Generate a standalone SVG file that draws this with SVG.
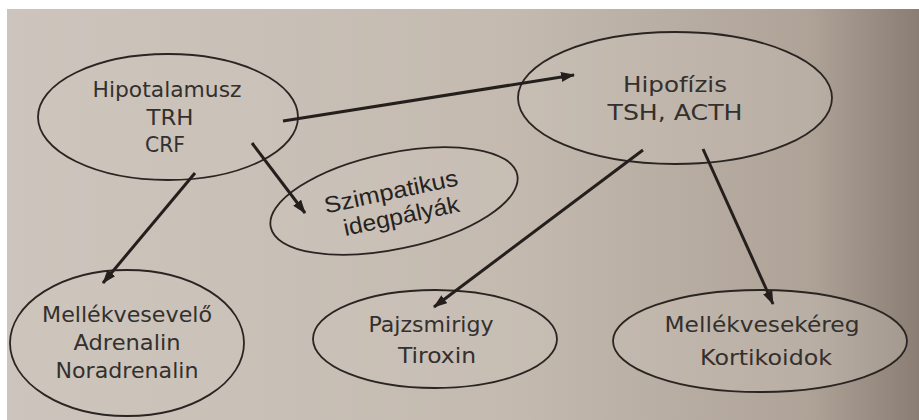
<svg xmlns="http://www.w3.org/2000/svg" width="919" height="420" viewBox="0 0 919 420">
<defs>
<linearGradient id="bg" x1="0" y1="0" x2="1" y2="0">
<stop offset="0" stop-color="#cdc5bd"/>
<stop offset="0.55" stop-color="#c4bab0"/>
<stop offset="0.88" stop-color="#afa398"/>
<stop offset="1" stop-color="#8a7e74"/>
</linearGradient>
<marker id="ah" viewBox="0 0 14 10" refX="13" refY="5" markerWidth="14" markerHeight="10" markerUnits="userSpaceOnUse" orient="auto">
<path d="M0,0 L14,5 L0,10 Z" fill="#241f1c"/>
</marker>
</defs>
<style>
.node ellipse{fill:#cdc5bc;fill-opacity:0.35;stroke:#2a2522;stroke-width:1.8}
.lbl{font-family:"DejaVu Sans",sans-serif;font-size:21px;fill:#33302d;text-anchor:middle}
.lbl2{font-family:"Liberation Sans",Arial,sans-serif;font-size:23px;fill:#262220;text-anchor:middle}
.edge{stroke:#241f1c;stroke-width:3;fill:none;marker-end:url(#ah)}
</style>
<rect x="0" y="0" width="919" height="420" fill="#ffffff"/>
<rect x="7" y="9" width="912" height="411" fill="url(#bg)"/>
<g id="hipotalamusz" class="node">
<ellipse cx="168" cy="117" rx="130" ry="63"/>
<text class="lbl" x="167" y="97" textLength="149" lengthAdjust="spacingAndGlyphs">Hipotalamusz</text>
<text class="lbl" x="170" y="125" textLength="47" lengthAdjust="spacingAndGlyphs">TRH</text>
<text class="lbl" x="165" y="152" textLength="40" lengthAdjust="spacingAndGlyphs">CRF</text>
</g>
<g id="hipofizis" class="node">
<ellipse cx="675" cy="98" rx="157" ry="66"/>
<text class="lbl" x="675" y="92" textLength="104" lengthAdjust="spacingAndGlyphs">Hipofízis</text>
<text class="lbl" x="675" y="120" textLength="135" lengthAdjust="spacingAndGlyphs">TSH, ACTH</text>
</g>
<g id="szimpatikus" class="node">
<ellipse cx="394" cy="201" rx="126" ry="48" transform="rotate(-12 394 201)"/>
<g transform="rotate(-12 394 201)">
<text class="lbl2" x="393" y="199" textLength="136" lengthAdjust="spacingAndGlyphs">Szimpatikus</text>
<text class="lbl2" x="398" y="225" textLength="118" lengthAdjust="spacingAndGlyphs">idegpályák</text>
</g>
</g>
<g id="mellekvesevelo" class="node">
<ellipse cx="127" cy="343" rx="117" ry="73"/>
<text class="lbl" x="127" y="322" textLength="170" lengthAdjust="spacingAndGlyphs">Mellékvesevelő</text>
<text class="lbl" x="127" y="350" textLength="107" lengthAdjust="spacingAndGlyphs">Adrenalin</text>
<text class="lbl" x="127" y="378" textLength="143" lengthAdjust="spacingAndGlyphs">Noradrenalin</text>
</g>
<g id="pajzsmirigy" class="node">
<ellipse cx="435" cy="339" rx="122" ry="49"/>
<text class="lbl" x="431" y="332" textLength="125" lengthAdjust="spacingAndGlyphs">Pajzsmirigy</text>
<text class="lbl" x="437" y="363" textLength="78" lengthAdjust="spacingAndGlyphs">Tiroxin</text>
</g>
<g id="mellekvesekereg" class="node">
<ellipse cx="760" cy="341" rx="147" ry="51"/>
<text class="lbl" x="762" y="332" textLength="195" lengthAdjust="spacingAndGlyphs">Mellékvesekéreg</text>
<text class="lbl" x="766" y="365" textLength="132" lengthAdjust="spacingAndGlyphs">Kortikoidok</text>
</g>
<g id="connectors">
<line class="edge" x1="283" y1="121" x2="574" y2="75"/>
<line class="edge" x1="252" y1="143" x2="305" y2="213"/>
<line class="edge" x1="195" y1="173" x2="103" y2="283"/>
<line class="edge" x1="643" y1="150" x2="434" y2="307"/>
<line class="edge" x1="703" y1="149" x2="773" y2="304"/>
</g>
</svg>
